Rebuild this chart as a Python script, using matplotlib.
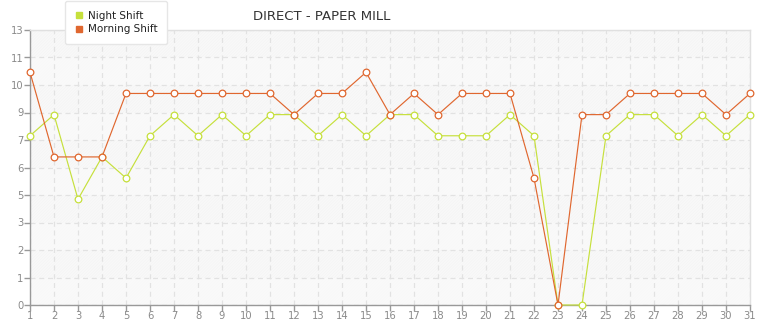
import matplotlib
matplotlib.use("Agg")
import matplotlib.pyplot as plt
import numpy as np
from matplotlib.lines import Line2D
from matplotlib.patches import Rectangle

days = list(range(1, 32))
night_shift = [8, 9, 5, 7, 6, 8, 9, 8, 9, 8, 9, 9, 8, 9, 8, 9, 9, 8, 8, 8, 9, 8, 0, 0, 8, 9, 9, 8, 9, 8, 9]
morning_shift = [11, 7, 7, 7, 10, 10, 10, 10, 10, 10, 10, 9, 10, 10, 11, 9, 10, 9, 10, 10, 10, 6, 0, 9, 9, 10, 10, 10, 10, 9, 10]
title = "DIRECT - PAPER MILL"
series_names = ["Night Shift", "Morning Shift"]
colors = ["#c6e03c", "#e0672f"]
y_max = 13
n_intervals = 10

plt.rcParams['hatch.linewidth'] = 0.4
plt.rcParams['hatch.color'] = '#f0f0f0'

fig = plt.figure(figsize=(7.65, 3.2), dpi=100)
ax = fig.add_axes([30/765, 15/320, 720/765, 275/320])

yticks = np.linspace(0, y_max, n_intervals + 1)
ax.set_xlim(1, 31)
ax.set_ylim(0, y_max)

# hatched background with alternating faded bands
ax.add_patch(Rectangle((0, 0), 1, 1, transform=ax.transAxes, facecolor='white',
                       hatch='/' * 22, edgecolor='#f0f0f0', lw=0, zorder=0.2))
for i in range(n_intervals):
    if i % 2 == 0:
        ax.axhspan(yticks[i], yticks[i+1], color='#fbfbfb', alpha=0.6, zorder=0.4, lw=0)

ax.set_yticks(yticks)
ax.set_yticklabels([str(int(np.floor(v + 1e-9))) for v in yticks])
ax.set_xticks(days)
ax.set_xticklabels([str(d) for d in days])

ax.grid(True, color='#e2e2e2', linestyle=(0, (4, 3)), linewidth=0.9, zorder=1)
ax.set_axisbelow(True)

for s, c, name in zip([night_shift, morning_shift], colors, series_names):
    ax.plot(days, s, color=c, lw=0.85, marker='o', markersize=4.8,
            markerfacecolor='white', markeredgecolor=c, markeredgewidth=0.9,
            zorder=3, clip_on=False, label=name)

for side in ['left', 'bottom']:
    ax.spines[side].set_color('#999999')
    ax.spines[side].set_linewidth(1.0)
for side in ['top', 'right']:
    ax.spines[side].set_color('#e0e0e0')
    ax.spines[side].set_linewidth(1.0)

ax.tick_params(axis='both', colors='#999999', labelcolor='#8a8a8a', labelsize=7.2,
               length=4, width=1, direction='out', pad=0.5)

fig.text(322/765, 1 - 17/320, title, ha='center', va='center', fontsize=9.5, color='#333333')

handles = [Line2D([], [], color=c, marker='s', linestyle='none', markersize=4.3) for c in colors]
leg = fig.legend(handles, series_names, loc='upper left', bbox_to_anchor=(60/765, 1.012),
                 frameon=True, fontsize=7.5, handlelength=0.8, handletextpad=0.5,
                 borderpad=0.9, labelspacing=0.35, fancybox=True, framealpha=1,
                 edgecolor='#e6e6e6', facecolor='white')
leg.get_frame().set_linewidth(1.0)
for t in leg.get_texts():
    t.set_color('#222222')

fig.savefig('out.png', dpi=100)
